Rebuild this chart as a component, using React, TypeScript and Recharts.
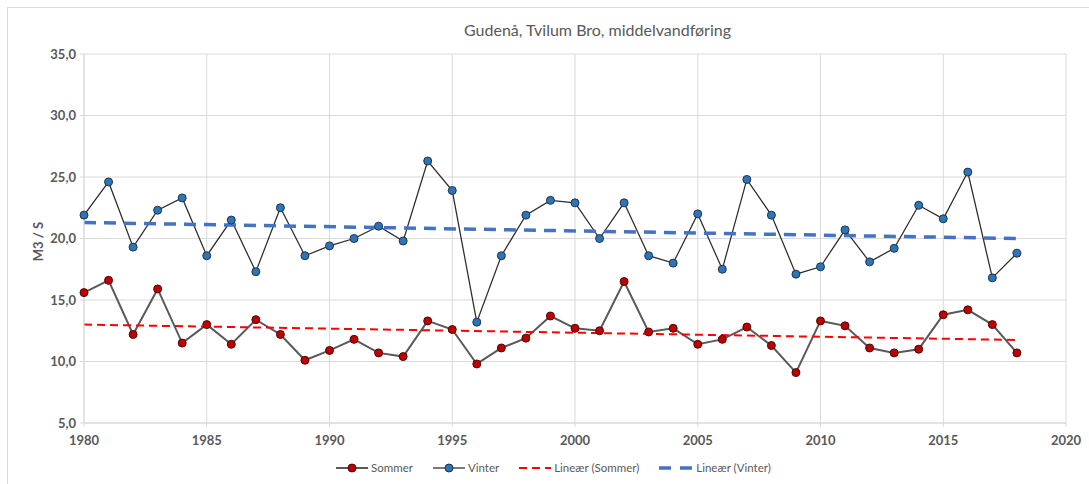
import React from "react";
import { LineChart, Line, XAxis, YAxis, CartesianGrid } from "recharts";

const years = [
  1980, 1981, 1982, 1983, 1984, 1985, 1986, 1987, 1988, 1989, 1990, 1991, 1992,
  1993, 1994, 1995, 1996, 1997, 1998, 1999, 2000, 2001, 2002, 2003, 2004, 2005,
  2006, 2007, 2008, 2009, 2010, 2011, 2012, 2013, 2014, 2015, 2016, 2017, 2018,
];
const sommer = [
  15.6, 16.6, 12.2, 15.9, 11.5, 13.0, 11.4, 13.4, 12.2, 10.1, 10.9, 11.8, 10.7,
  10.4, 13.3, 12.6, 9.8, 11.1, 11.9, 13.7, 12.7, 12.5, 16.5, 12.4, 12.7, 11.4,
  11.8, 12.8, 11.3, 9.1, 13.3, 12.9, 11.1, 10.7, 11.0, 13.8, 14.2, 13.0, 10.7,
];
const vinter = [
  21.9, 24.6, 19.3, 22.3, 23.3, 18.6, 21.5, 17.3, 22.5, 18.6, 19.4, 20.0, 21.0,
  19.8, 26.3, 23.9, 13.2, 18.6, 21.9, 23.1, 22.9, 20.0, 22.9, 18.6, 18.0, 22.0,
  17.5, 24.8, 21.9, 17.1, 17.7, 20.7, 18.1, 19.2, 22.7, 21.6, 25.4, 16.8, 18.8,
];
const trendYears = [1980, 2018];
const trendSommer = [13.0, 11.75];
const trendVinter = [21.3, 20.0];

const xTicks = [1980, 1985, 1990, 1995, 2000, 2005, 2010, 2015, 2020];
const yTicks = [5, 10, 15, 20, 25, 30, 35];

const title = "Gudenå, Tvilum Bro, middelvandføring";
const yLabel = "M3 / S";
const legendNames = ["Sommer", "Vinter", "Lineær (Sommer)", "Lineær (Vinter)"];

const data = years.map((y, i) => {
  const ti = trendYears.indexOf(y);
  return {
    year: y,
    sommer: sommer[i],
    vinter: vinter[i],
    trendS: ti >= 0 ? trendSommer[ti] : null,
    trendV: ti >= 0 ? trendVinter[ti] : null,
  };
});

const FONT = "Lato, 'Noto Sans', sans-serif";
const GRID = "#D9D9D9";
const TEXT = "#595959";
const LINE_S = "#595959";
const LINE_V = "#2b2b2b";
const RED = "#C00000";
const BLUE = "#2E75B6";
const RED_EDGE = "#4a0a0a";
const BLUE_EDGE = "#1F3350";

const fmt = (v: number) => v.toFixed(1).replace(".", ",");

const YLabel = (props: any) => {
  const vb = props.viewBox || { x: 0, y: 0, width: 0, height: 0 };
  const cx = 38;
  const cy = vb.y + vb.height / 2 + 3;
  return (
    <text
      x={cx}
      y={cy}
      transform={`rotate(-90 ${cx} ${cy})`}
      textAnchor="middle"
      dominantBaseline="central"
      fill={TEXT}
      fontSize={13}
      fontWeight={700}
      fontFamily={FONT}
    >
      {yLabel}
    </text>
  );
};

const LegendIcon = ({ kind }: { kind: number }) => {
  if (kind === 0 || kind === 1) {
    return (
      <svg width={32} height={12}>
        <line x1={0} y1={6} x2={32} y2={6} stroke={kind === 0 ? LINE_S : LINE_V} strokeWidth={kind === 0 ? 2 : 1.25} />
        <circle cx={16} cy={6} r={4} fill={kind === 0 ? RED : BLUE} stroke={kind === 0 ? RED_EDGE : BLUE_EDGE} strokeWidth={1} />
      </svg>
    );
  }
  if (kind === 2) {
    return (
      <svg width={32} height={12}>
        <line x1={0} y1={6} x2={32} y2={6} stroke="#FF0000" strokeWidth={2} strokeDasharray="8 5" />
      </svg>
    );
  }
  return (
    <svg width={34} height={12}>
      <line x1={0} y1={6} x2={34} y2={6} stroke="#4472C4" strokeWidth={3.5} strokeDasharray="12 9" />
    </svg>
  );
};

export default function App() {
  return (
    <div
      style={{
        position: "absolute",
        left: 0,
        top: 0,
        width: 1089,
        height: 484,
        overflow: "hidden",
        background: "#fff",
        fontFamily: FONT,
      }}
    >
      <div
        style={{
          position: "absolute",
          left: 7,
          top: 7,
          width: 1082,
          height: 477,
          borderTop: "1px solid #D9D9D9",
          borderLeft: "1px solid #D9D9D9",
          boxSizing: "border-box",
        }}
      />
      <div
        style={{
          position: "absolute",
          left: 0,
          top: 20,
          width: 1195,
          textAlign: "center",
          fontSize: 16,
          color: TEXT,
          fontFamily: FONT,
        }}
      >
        {title}
      </div>
      <div style={{ position: "absolute", left: 0, top: 0 }}>
        <LineChart
          width={1089}
          height={484}
          data={data}
          margin={{ top: 54, right: 23, bottom: 31, left: 0 }}
        >
          <CartesianGrid stroke={GRID} strokeWidth={1} />
          <XAxis
            dataKey="year"
            type="number"
            domain={[1980, 2020]}
            ticks={xTicks}
            interval={0}
            height={30}
            stroke={GRID}
            tickSize={4}
            tickMargin={9}
            tick={{ fill: TEXT, fontSize: 13, fontWeight: 700, fontFamily: FONT }}
          />
          <YAxis
            type="number"
            domain={[5, 35]}
            ticks={yTicks}
            interval={0}
            width={84}
            stroke={GRID}
            tickSize={4}
            tickMargin={4}
            tickFormatter={fmt}
            tick={{ fill: TEXT, fontSize: 13, fontWeight: 700, fontFamily: FONT }}
            label={<YLabel />}
          />
          <Line
            dataKey="sommer"
            stroke={LINE_S}
            strokeWidth={2}
            isAnimationActive={false}
            dot={{ r: 4, fill: RED, stroke: RED_EDGE, strokeWidth: 1 }}
            activeDot={false}
          />
          <Line
            dataKey="vinter"
            stroke={LINE_V}
            strokeWidth={1.25}
            isAnimationActive={false}
            dot={{ r: 4, fill: BLUE, stroke: BLUE_EDGE, strokeWidth: 1 }}
            activeDot={false}
          />
          <Line
            dataKey="trendS"
            stroke="#FF0000"
            strokeWidth={2}
            strokeDasharray="8 5"
            connectNulls
            dot={false}
            activeDot={false}
            isAnimationActive={false}
          />
          <Line
            dataKey="trendV"
            stroke="#4472C4"
            strokeWidth={3.5}
            strokeDasharray="12 8"
            connectNulls
            dot={false}
            activeDot={false}
            isAnimationActive={false}
          />
        </LineChart>
      </div>
      <div
        style={{
          position: "absolute",
          left: 336,
          top: 461,
          display: "flex",
          alignItems: "center",
          fontSize: 11.5,
          color: TEXT,
          fontFamily: FONT,
          whiteSpace: "nowrap",
        }}
      >
        {legendNames.map((n, i) => (
          <div key={n} style={{ display: "flex", alignItems: "center", marginRight: i < 3 ? 20 : 0 }}>
            <LegendIcon kind={i} />
            <span style={{ marginLeft: 3 }}>{n}</span>
          </div>
        ))}
      </div>
    </div>
  );
}
